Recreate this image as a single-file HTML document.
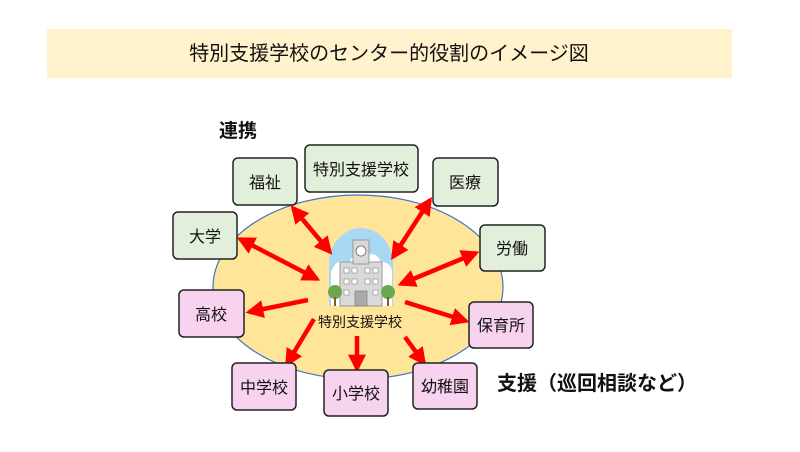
<!DOCTYPE html>
<html><head><meta charset="utf-8"><style>
html,body{margin:0;padding:0;background:#fff;}
svg{display:block;}
text{font-family:"Liberation Sans","Noto Sans CJK JP",sans-serif;}
</style></head><body>
<svg width="800" height="452" viewBox="0 0 800 452" xmlns="http://www.w3.org/2000/svg">
<defs>
<marker id="ah" viewBox="0 0 10 10" refX="8" refY="5" markerWidth="4" markerHeight="4" orient="auto-start-reverse" markerUnits="strokeWidth">
<path d="M0,0 L10,5 L0,10 z" fill="#f00"/></marker>
</defs>
<rect x="47" y="29" width="685" height="49" fill="#fff2cc"/>
<text x="389" y="60" font-size="20" text-anchor="middle" fill="#111">特別支援学校のセンター的役割のイメージ図</text>
<text x="219" y="137" font-size="19" font-weight="bold" fill="#111">連携</text>
<text x="497" y="390" font-size="20" font-weight="bold" fill="#111">支援（巡回相談など）</text>

<ellipse cx="358" cy="287" rx="145" ry="92" fill="#ffe599" stroke="#4472c4" stroke-width="1.2"/>

<!-- building -->
<path d="M329,306 L329,264 A32,36 0 0 1 393,264 L393,306 Z" fill="#a9d8f5"/>
<path d="M331,272 q6,-16 18,-8 q4,-14 16,-8 q10,-6 16,6 q12,0 11,14 L392,306 L331,306Z" fill="#fff"/>
<rect x="340" y="262" width="42" height="44" fill="#d9d9d9" stroke="#888" stroke-width="0.8"/>
<rect x="353" y="240" width="16" height="24" fill="#d9d9d9" stroke="#888" stroke-width="0.8"/>
<circle cx="361" cy="251" r="5" fill="#fff" stroke="#666" stroke-width="0.8"/>
<g fill="#fff" stroke="#888" stroke-width="0.6">
<rect x="344" y="268" width="5" height="5"/><rect x="352" y="268" width="5" height="5"/><rect x="365" y="268" width="5" height="5"/><rect x="373" y="268" width="5" height="5"/>
<rect x="344" y="279" width="5" height="5"/><rect x="352" y="279" width="5" height="5"/><rect x="365" y="279" width="5" height="5"/><rect x="373" y="279" width="5" height="5"/>
<rect x="344" y="290" width="5" height="5"/><rect x="373" y="290" width="5" height="5"/>
</g>
<rect x="355" y="291" width="12" height="15" fill="#aaa" stroke="#777" stroke-width="0.6"/>
<circle cx="335" cy="292" r="7" fill="#6aa84f"/><rect x="334" y="297" width="2" height="9" fill="#8b5a2b"/>
<circle cx="388" cy="292" r="7" fill="#6aa84f"/><rect x="387" y="297" width="2" height="9" fill="#8b5a2b"/>
<text x="360" y="327" font-size="14" text-anchor="middle" fill="#111">特別支援学校</text>

<!-- arrows -->
<g stroke="#f00" stroke-width="4.5" fill="none">
<line x1="293" y1="208" x2="330" y2="252" marker-start="url(#ah)" marker-end="url(#ah)"/>
<line x1="240" y1="239" x2="317" y2="279" marker-start="url(#ah)" marker-end="url(#ah)"/>
<line x1="430" y1="200" x2="393" y2="257" marker-start="url(#ah)" marker-end="url(#ah)"/>
<line x1="476" y1="253" x2="401" y2="284" marker-start="url(#ah)" marker-end="url(#ah)"/>
<line x1="308" y1="300" x2="249" y2="312" marker-end="url(#ah)"/>
<line x1="405" y1="302" x2="466" y2="321" marker-end="url(#ah)"/>
<line x1="314" y1="319" x2="287" y2="364" marker-end="url(#ah)"/>
<line x1="357" y1="336" x2="357" y2="369" marker-end="url(#ah)"/>
<line x1="405" y1="337" x2="424" y2="363" marker-end="url(#ah)"/>
</g>

<!-- boxes -->
<g stroke="#222" stroke-width="1.5">
<rect x="233" y="158" width="64" height="47" rx="5" fill="#e2efda"/>
<rect x="305" y="145" width="113" height="47" rx="5" fill="#e2efda"/>
<rect x="433" y="158" width="65" height="48" rx="5" fill="#e2efda"/>
<rect x="173" y="212" width="64" height="47" rx="5" fill="#e2efda"/>
<rect x="480" y="225" width="65" height="46" rx="5" fill="#e2efda"/>
<rect x="179" y="290" width="65" height="47" rx="5" fill="#f8d3ef"/>
<rect x="469" y="302" width="64" height="46" rx="5" fill="#f8d3ef"/>
<rect x="232" y="363" width="64" height="47" rx="5" fill="#f8d3ef"/>
<rect x="324" y="370" width="64" height="46" rx="5" fill="#f8d3ef"/>
<rect x="413" y="363" width="64" height="46" rx="5" fill="#f8d3ef"/>
</g>
<g font-size="16" text-anchor="middle" fill="#111">
<text x="265" y="188">福祉</text>
<text x="361" y="175">特別支援学校</text>
<text x="465" y="188">医療</text>
<text x="205" y="242">大学</text>
<text x="512" y="254">労働</text>
<text x="211" y="320">高校</text>
<text x="501" y="331">保育所</text>
<text x="264" y="393">中学校</text>
<text x="356" y="399">小学校</text>
<text x="445" y="392">幼稚園</text>
</g>
</svg>
</body></html>
